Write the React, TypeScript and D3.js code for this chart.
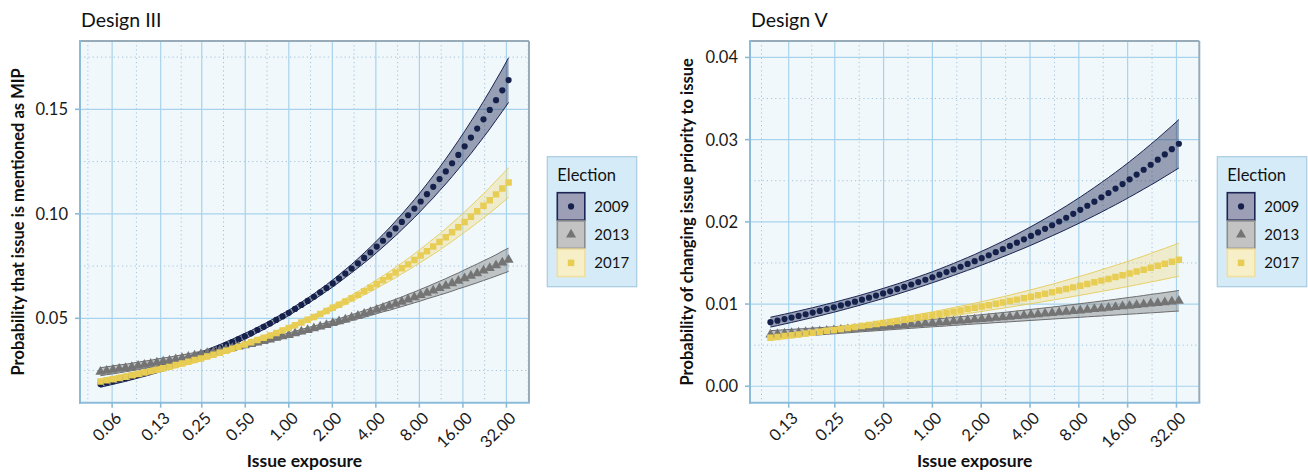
import React from "react";
import * as d3 from "d3";

// ---------- DATA ----------
// log(issue exposure) grid of the predictions
const lnExposureIII = [
  -3.0,-2.9,-2.8,-2.7,-2.6,-2.5,-2.4,-2.3,-2.2,-2.1,-2.0,-1.9,-1.8,-1.7,-1.6,-1.5,-1.4,-1.3,-1.2,-1.1,
  -1.0,-0.9,-0.8,-0.7,-0.6,-0.5,-0.4,-0.3,-0.2,-0.1,0.0,0.1,0.2,0.3,0.4,0.5,0.6,0.7,0.8,0.9,
  1.0,1.1,1.2,1.3,1.4,1.5,1.6,1.7,1.8,1.9,2.0,2.1,2.2,2.3,2.4,2.5,2.6,2.7,2.8,2.9,
  3.0,3.1,3.2,3.3,3.4,3.5];
const lnExposureV = [
  -2.3,-2.2,-2.1,-2.0,-1.9,-1.8,-1.7,-1.6,-1.5,-1.4,-1.3,-1.2,-1.1,-1.0,-0.9,-0.8,-0.7,-0.6,-0.5,-0.4,
  -0.3,-0.2,-0.1,0.0,0.1,0.2,0.3,0.4,0.5,0.6,0.7,0.8,0.9,1.0,1.1,1.2,1.3,1.4,1.5,1.6,
  1.7,1.8,1.9,2.0,2.1,2.2,2.3,2.4,2.5,2.6,2.7,2.8,2.9,3.0,3.1,3.2,3.3,3.4,3.5];

// Design III
const iii2009 = [.0185,.0192,.0199,.0206,.0213,.0221,.0229,.0237,.0245,.0254,.0263,.0273,.0282,.0292,.0303,.0314,.0325,.0336,.0348,.0360,.0373,.0386,.0400,.0414,.0428,.0444,.0459,.0475,.0492,.0509,.0526,.0545,.0564,.0583,.0603,.0624,.0645,.0667,.0690,.0714,.0738,.0763,.0789,.0815,.0843,.0871,.0900,.0930,.0961,.0993,.1025,.1059,.1094,.1129,.1166,.1203,.1242,.1282,.1323,.1365,.1408,.1452,.1497,.1544,.1591,.1640];
const iii2009Lo = [.0170,.0177,.0184,.0191,.0198,.0206,.0214,.0222,.0230,.0239,.0248,.0258,.0267,.0277,.0288,.0299,.0310,.0322,.0334,.0346,.0359,.0372,.0386,.0400,.0415,.0431,.0446,.0462,.0479,.0496,.0513,.0532,.0551,.0569,.0589,.0609,.0629,.0650,.0672,.0695,.0718,.0741,.0765,.0789,.0815,.0841,.0868,.0895,.0924,.0953,.0982,.1013,.1045,.1076,.1110,.1143,.1178,.1214,.1251,.1288,.1327,.1366,.1406,.1448,.1490,.1533];
const iii2009Hi = [.0200,.0207,.0214,.0221,.0228,.0236,.0244,.0252,.0260,.0269,.0278,.0288,.0297,.0307,.0318,.0329,.0340,.0350,.0362,.0374,.0387,.0400,.0414,.0428,.0441,.0457,.0472,.0488,.0505,.0522,.0539,.0558,.0577,.0597,.0617,.0639,.0661,.0684,.0708,.0733,.0758,.0785,.0813,.0841,.0871,.0901,.0932,.0965,.0998,.1033,.1068,.1105,.1143,.1182,.1222,.1263,.1306,.1350,.1395,.1442,.1489,.1538,.1588,.1640,.1692,.1747];
const iii2013 = [.0244,.0249,.0253,.0258,.0262,.0267,.0272,.0277,.0282,.0288,.0293,.0298,.0304,.0309,.0315,.0321,.0327,.0333,.0339,.0345,.0351,.0358,.0364,.0371,.0377,.0384,.0391,.0398,.0406,.0413,.0420,.0428,.0436,.0444,.0452,.0460,.0468,.0477,.0485,.0494,.0503,.0512,.0521,.0530,.0540,.0550,.0559,.0569,.0579,.0590,.0600,.0611,.0622,.0633,.0644,.0655,.0667,.0679,.0691,.0703,.0715,.0728,.0740,.0753,.0767,.0780];
const iii2013Lo = [.0225,.0230,.0234,.0239,.0244,.0249,.0254,.0259,.0265,.0271,.0276,.0282,.0288,.0293,.0300,.0306,.0312,.0319,.0325,.0331,.0338,.0345,.0351,.0359,.0365,.0373,.0380,.0387,.0395,.0402,.0410,.0418,.0425,.0433,.0441,.0449,.0456,.0465,.0472,.0480,.0489,.0497,.0505,.0513,.0522,.0531,.0538,.0547,.0556,.0565,.0574,.0583,.0593,.0602,.0611,.0620,.0630,.0641,.0650,.0660,.0670,.0681,.0691,.0702,.0713,.0724];
const iii2013Hi = [.0263,.0268,.0272,.0277,.0280,.0285,.0290,.0295,.0299,.0305,.0310,.0314,.0320,.0325,.0330,.0336,.0342,.0347,.0353,.0359,.0364,.0371,.0377,.0383,.0389,.0395,.0402,.0409,.0417,.0424,.0430,.0438,.0447,.0455,.0463,.0471,.0480,.0489,.0498,.0508,.0517,.0527,.0537,.0547,.0558,.0569,.0580,.0591,.0602,.0615,.0626,.0639,.0651,.0664,.0677,.0690,.0704,.0717,.0732,.0746,.0760,.0775,.0789,.0804,.0821,.0836];
const iii2017 = [.0197,.0203,.0208,.0214,.0220,.0227,.0233,.0240,.0247,.0254,.0261,.0268,.0276,.0284,.0292,.0300,.0308,.0317,.0326,.0335,.0345,.0354,.0364,.0374,.0385,.0396,.0407,.0418,.0430,.0442,.0454,.0467,.0480,.0493,.0506,.0520,.0535,.0550,.0565,.0580,.0596,.0612,.0629,.0646,.0664,.0682,.0700,.0719,.0739,.0758,.0779,.0800,.0821,.0843,.0865,.0888,.0912,.0936,.0961,.0986,.1012,.1038,.1065,.1093,.1121,.1150];
const iii2017Lo = [.0183,.0189,.0194,.0200,.0206,.0213,.0219,.0226,.0233,.0240,.0248,.0255,.0263,.0271,.0279,.0287,.0295,.0305,.0314,.0323,.0333,.0342,.0353,.0363,.0374,.0385,.0396,.0408,.0420,.0432,.0444,.0457,.0470,.0482,.0495,.0509,.0523,.0537,.0552,.0566,.0581,.0596,.0612,.0627,.0644,.0661,.0677,.0694,.0713,.0730,.0749,.0768,.0787,.0806,.0826,.0847,.0868,.0890,.0912,.0934,.0957,.0980,.1004,.1028,.1053,.1079];
const iii2017Hi = [.0211,.0217,.0222,.0228,.0234,.0241,.0247,.0254,.0261,.0268,.0274,.0281,.0289,.0297,.0305,.0313,.0321,.0329,.0338,.0347,.0357,.0366,.0375,.0385,.0396,.0407,.0418,.0428,.0440,.0452,.0464,.0477,.0490,.0504,.0517,.0531,.0547,.0563,.0578,.0594,.0611,.0628,.0646,.0665,.0684,.0703,.0723,.0744,.0765,.0786,.0809,.0832,.0855,.0880,.0904,.0929,.0956,.0982,.1010,.1038,.1067,.1096,.1126,.1158,.1189,.1221];

// Design V
const v2009 = [.00780,.00798,.00817,.00836,.00856,.00876,.00896,.00917,.00939,.00960,.00983,.01006,.01029,.01053,.01078,.01103,.01129,.01155,.01182,.01210,.01238,.01267,.01296,.01326,.01357,.01389,.01421,.01454,.01488,.01522,.01558,.01594,.01631,.01669,.01707,.01747,.01787,.01829,.01871,.01915,.01959,.02004,.02050,.02098,.02146,.02196,.02246,.02298,.02351,.02405,.02460,.02517,.02575,.02634,.02695,.02756,.02820,.02884,.02950];
const v2009Lo = [.00720,.00738,.00757,.00776,.00796,.00816,.00836,.00857,.00879,.00900,.00923,.00946,.00969,.00993,.01018,.01042,.01068,.01094,.01120,.01147,.01174,.01202,.01230,.01259,.01288,.01318,.01348,.01379,.01410,.01441,.01474,.01507,.01540,.01575,.01609,.01644,.01679,.01716,.01753,.01791,.01830,.01868,.01908,.01949,.01990,.02032,.02075,.02118,.02163,.02208,.02254,.02301,.02349,.02398,.02447,.02497,.02550,.02602,.02655];
const v2009Hi = [.00840,.00858,.00877,.00896,.00916,.00936,.00956,.00977,.00999,.01020,.01043,.01066,.01089,.01113,.01138,.01164,.01190,.01217,.01244,.01273,.01302,.01332,.01362,.01393,.01426,.01460,.01494,.01530,.01566,.01603,.01642,.01681,.01722,.01763,.01806,.01850,.01895,.01942,.01989,.02039,.02088,.02140,.02192,.02247,.02302,.02360,.02418,.02478,.02539,.02602,.02666,.02733,.02801,.02871,.02943,.03015,.03091,.03166,.03245];
const v2013 = [.00630,.00635,.00641,.00647,.00652,.00658,.00664,.00669,.00675,.00681,.00687,.00693,.00699,.00705,.00711,.00717,.00724,.00730,.00736,.00743,.00749,.00756,.00762,.00769,.00775,.00782,.00789,.00796,.00803,.00810,.00817,.00824,.00831,.00838,.00845,.00853,.00860,.00868,.00875,.00883,.00890,.00898,.00906,.00914,.00922,.00930,.00938,.00946,.00954,.00962,.00971,.00979,.00987,.00996,.01005,.01013,.01022,.01031,.01040];
const v2013Lo = [.00583,.00589,.00595,.00602,.00607,.00614,.00620,.00625,.00632,.00638,.00644,.00650,.00657,.00663,.00669,.00675,.00681,.00687,.00693,.00699,.00705,.00711,.00717,.00723,.00728,.00734,.00740,.00746,.00752,.00757,.00763,.00768,.00774,.00779,.00784,.00790,.00795,.00801,.00806,.00812,.00817,.00823,.00828,.00834,.00839,.00845,.00850,.00855,.00861,.00866,.00872,.00877,.00882,.00888,.00893,.00898,.00904,.00910,.00915];
const v2013Hi = [.00677,.00681,.00687,.00692,.00697,.00702,.00708,.00713,.00718,.00724,.00730,.00736,.00741,.00747,.00753,.00759,.00767,.00773,.00779,.00787,.00793,.00801,.00807,.00815,.00822,.00830,.00838,.00846,.00854,.00863,.00871,.00880,.00888,.00897,.00906,.00916,.00925,.00935,.00944,.00954,.00963,.00973,.00984,.00994,.01005,.01015,.01026,.01037,.01047,.01058,.01070,.01081,.01092,.01104,.01117,.01128,.01140,.01152,.01165];
const v2017 = [.00590,.00600,.00610,.00620,.00630,.00641,.00652,.00663,.00674,.00685,.00697,.00708,.00720,.00732,.00744,.00757,.00769,.00782,.00795,.00809,.00822,.00836,.00850,.00864,.00878,.00893,.00908,.00923,.00939,.00954,.00970,.00986,.01003,.01019,.01036,.01054,.01071,.01089,.01107,.01126,.01144,.01164,.01183,.01203,.01223,.01243,.01264,.01285,.01306,.01328,.01350,.01372,.01395,.01418,.01442,.01466,.01490,.01515,.01540];
const v2017Lo = [.00558,.00569,.00579,.00590,.00600,.00611,.00623,.00634,.00645,.00656,.00668,.00679,.00691,.00703,.00714,.00726,.00737,.00749,.00761,.00774,.00785,.00797,.00810,.00822,.00834,.00846,.00859,.00871,.00885,.00897,.00910,.00923,.00937,.00949,.00963,.00977,.00990,.01004,.01018,.01033,.01047,.01062,.01077,.01092,.01107,.01122,.01138,.01153,.01169,.01185,.01201,.01217,.01234,.01251,.01268,.01285,.01303,.01321,.01338];
const v2017Hi = [.00622,.00631,.00641,.00650,.00660,.00671,.00681,.00692,.00703,.00714,.00726,.00737,.00749,.00761,.00774,.00788,.00801,.00815,.00829,.00844,.00859,.00875,.00890,.00906,.00922,.00940,.00957,.00975,.00993,.01011,.01030,.01049,.01069,.01089,.01109,.01131,.01152,.01174,.01196,.01219,.01241,.01266,.01290,.01314,.01339,.01364,.01390,.01417,.01443,.01471,.01499,.01527,.01556,.01585,.01616,.01647,.01677,.01709,.01742];

const elections = ["2009", "2013", "2017"];
const xTickValues = [0.06, 0.13, 0.25, 0.5, 1, 2, 4, 8, 16, 32];
const yTicksIII = [0.05, 0.1, 0.15];
const yTicksV = [0.0, 0.01, 0.02, 0.03, 0.04];

// ---------- STYLE ----------
const FONT = "Lato, 'Open Sans', sans-serif";
const STYLE: Record<string, { pt: string; fill: string; fillOp: number; line: string; kfill: string; kstroke: string }> = {
  "2009": { pt: "#15204b", fill: "#1b2452", fillOp: 0.42, line: "#1b2452", kfill: "#9c9fb6", kstroke: "#1b2452" },
  "2013": { pt: "#747474", fill: "#7a7a7a", fillOp: 0.42, line: "#6c6c6c", kfill: "#c3c3c3", kstroke: "#8c8c8c" },
  "2017": { pt: "#e8cd55", fill: "#eed777", fillOp: 0.35, line: "#e6cf66", kfill: "#f6efc8", kstroke: "#efe0a0" },
};
const shapes: Record<string, d3.SymbolType> = {
  "2009": d3.symbolCircle,
  "2013": d3.symbolTriangle,
  "2017": d3.symbolSquare,
};
const sizes: Record<string, number> = { "2009": 30, "2013": 44, "2017": 42 };

type Series = { key: string; mean: number[]; lo: number[]; hi: number[] };

type PanelProps = {
  title: string;
  yTitle: string;
  yTitleX: number;
  x0: number; x1: number; y0: number; y1: number;
  xDom: [number, number];
  yDom: [number, number];
  yTicks: number[];
  lnX: number[];
  series: Series[];
  legendX: number;
};

function Panel(p: PanelProps) {
  const x = d3.scaleLinear().domain(p.xDom).range([p.x0, p.x1]);
  const y = d3.scaleLinear().domain(p.yDom).range([p.y1, p.y0]);
  const lnTicks = xTickValues.map(Math.log);
  const inX = (v: number) => v >= p.xDom[0] && v <= p.xDom[1];
  const inY = (v: number) => v >= p.yDom[0] && v <= p.yDom[1];
  const xMajor = lnTicks.filter(inX);
  const xMinorAll: number[] = [];
  xMinorAll.push(lnTicks[0] - (lnTicks[1] - lnTicks[0]) / 2);
  for (let i = 0; i < lnTicks.length - 1; i++) xMinorAll.push((lnTicks[i] + lnTicks[i + 1]) / 2);
  const n = lnTicks.length;
  xMinorAll.push(lnTicks[n - 1] + (lnTicks[n - 1] - lnTicks[n - 2]) / 2);
  const xMinor = xMinorAll.filter(inX);
  const yStep = p.yTicks[1] - p.yTicks[0];
  const yMinorAll = [p.yTicks[0] - yStep / 2, ...p.yTicks.map((t) => t + yStep / 2)];
  const yMinor = yMinorAll.filter(inY);
  const fmt = d3.format(".2f");

  const area = (s: Series) =>
    d3.area<number>().x((_, i) => x(p.lnX[i])).y0((_, i) => y(s.lo[i])).y1((_, i) => y(s.hi[i]))(s.mean) || "";
  const lineLo = (s: Series) => d3.line<number>().x((_, i) => x(p.lnX[i])).y((v) => y(v))(s.lo) || "";
  const lineHi = (s: Series) => d3.line<number>().x((_, i) => x(p.lnX[i])).y((v) => y(v))(s.hi) || "";

  const cx = (p.x0 + p.x1) / 2;
  const cy = (p.y0 + p.y1) / 2;
  const lx = p.legendX;
  const keyW = 27.5;
  const clipId = "clip" + p.title.replace(/\s/g, "");
  return (
    <g>
      <text x={p.x0 + 1} y={27} fontFamily={FONT} fontSize={19.5} fill="#111">{p.title}</text>
      <rect x={p.x0} y={p.y0} width={p.x1 - p.x0} height={p.y1 - p.y0} fill="#f0f8fc" />
      <clipPath id={clipId}>
        <rect x={p.x0} y={p.y0} width={p.x1 - p.x0} height={p.y1 - p.y0} />
      </clipPath>
      {xMinor.map((v, i) => (
        <line key={"xm" + i} x1={x(v)} x2={x(v)} y1={p.y0} y2={p.y1} stroke="#a3c3d8" strokeWidth={1} strokeDasharray="1.2 3" />
      ))}
      {yMinor.map((v, i) => (
        <line key={"ym" + i} x1={p.x0} x2={p.x1} y1={y(v)} y2={y(v)} stroke="#a3c3d8" strokeWidth={1} strokeDasharray="1.2 3" />
      ))}
      {xMajor.map((v, i) => (
        <line key={"xM" + i} x1={x(v)} x2={x(v)} y1={p.y0} y2={p.y1} stroke="#a8d3ec" strokeWidth={1.2} />
      ))}
      {p.yTicks.map((v, i) => (
        <line key={"yM" + i} x1={p.x0} x2={p.x1} y1={y(v)} y2={y(v)} stroke="#a8d3ec" strokeWidth={1.2} />
      ))}
      <g clipPath={`url(#${clipId})`}>
        {p.series.map((s) => (
          <g key={"rib" + s.key}>
            <path d={area(s)} fill={STYLE[s.key].fill} fillOpacity={STYLE[s.key].fillOp} stroke="none" />
            <path d={lineLo(s)} fill="none" stroke={STYLE[s.key].line} strokeWidth={1} />
            <path d={lineHi(s)} fill="none" stroke={STYLE[s.key].line} strokeWidth={1} />
          </g>
        ))}
        {p.series.map((s) => (
          <g key={"pts" + s.key}>
            {s.mean.map((v, i) => (
              <path
                key={i}
                transform={`translate(${x(p.lnX[i])},${y(v)})`}
                d={d3.symbol(shapes[s.key], sizes[s.key])() || ""}
                fill={STYLE[s.key].pt}
              />
            ))}
          </g>
        ))}
      </g>
      {/* panel border */}
      <line x1={p.x0} x2={p.x1} y1={p.y0} y2={p.y0} stroke="#97abb9" strokeWidth={2} />
      <line x1={p.x1} x2={p.x1} y1={p.y0} y2={p.y1} stroke="#97abb9" strokeWidth={2} />
      <line x1={p.x0} x2={p.x0} y1={p.y0 - 1} y2={p.y1 + 1} stroke="#8cbbd9" strokeWidth={2} />
      <line x1={p.x0 - 1} x2={p.x1 + 1} y1={p.y1} y2={p.y1} stroke="#8cbbd9" strokeWidth={2} />
      {/* y ticks */}
      {p.yTicks.map((v, i) => (
        <g key={"yt" + i}>
          <line x1={p.x0 - 5} x2={p.x0} y1={y(v)} y2={y(v)} stroke="#8cbbd9" strokeWidth={1.6} />
          <text x={p.x0 - 12} y={y(v)} dy="0.36em" textAnchor="end" fontFamily={FONT} fontSize={16.5} fill="#1a1a1a">{fmt(v)}</text>
        </g>
      ))}
      {/* x ticks */}
      {xTickValues.filter((v) => inX(Math.log(v))).map((v, i) => (
        <g key={"xt" + i}>
          <line x1={x(Math.log(v))} x2={x(Math.log(v))} y1={p.y1} y2={p.y1 + 5} stroke="#8cbbd9" strokeWidth={1.6} />
          <text
            transform={`translate(${x(Math.log(v)) + 2},${p.y1 + 8}) rotate(-45)`}
            dy="0.72em"
            textAnchor="end"
            fontFamily={FONT}
            fontSize={16.5}
            fill="#1a1a1a"
          >
            {fmt(v)}
          </text>
        </g>
      ))}
      <text x={cx} y={467} textAnchor="middle" fontFamily={FONT} fontWeight="bold" fontSize={17.5} fill="#111">Issue exposure</text>
      <text transform={`translate(${p.yTitleX},${cy}) rotate(-90)`} textAnchor="middle" dy="0.35em" fontFamily={FONT} fontWeight="bold" fontSize={16.5} fill="#111">
        {p.yTitle}
      </text>
      {/* legend */}
      <rect x={lx} y={156.7} width={89.4} height={130} fill="#d5ebf8" stroke="#a7cbe2" strokeWidth={1.2} />
      <text x={lx + 10} y={181} fontFamily={FONT} fontSize={16.5} fill="#111">Election</text>
      {elections.map((k, i) => {
        const ky = 192.7 + i * 28.2;
        return (
          <g key={"lg" + k}>
            <rect x={lx + 10} y={ky} width={keyW} height={keyW} fill={STYLE[k].kfill} stroke={STYLE[k].kstroke} strokeWidth={1.6} />
            <path transform={`translate(${lx + 10 + keyW / 2},${ky + keyW / 2})`} d={d3.symbol(shapes[k], sizes[k])() || ""} fill={STYLE[k].pt} />
            <text x={lx + 47} y={ky + keyW / 2} dy="0.36em" fontFamily={FONT} fontSize={15} fill="#111">{k}</text>
          </g>
        );
      })}
    </g>
  );
}

export default function App() {
  const seriesIII: Series[] = [
    { key: "2009", mean: iii2009, lo: iii2009Lo, hi: iii2009Hi },
    { key: "2013", mean: iii2013, lo: iii2013Lo, hi: iii2013Hi },
    { key: "2017", mean: iii2017, lo: iii2017Lo, hi: iii2017Hi },
  ];
  const seriesV: Series[] = [
    { key: "2009", mean: v2009, lo: v2009Lo, hi: v2009Hi },
    { key: "2013", mean: v2013, lo: v2013Lo, hi: v2013Hi },
    { key: "2017", mean: v2017, lo: v2017Lo, hi: v2017Hi },
  ];
  return (
    <svg width={1308} height={475} style={{ position: "absolute", left: 0, top: 0, background: "#fff" }}>
      <rect width={1308} height={475} fill="#fff" />
      <Panel
        title="Design III"
        yTitle="Probability that issue is mentioned as MIP"
        yTitleX={18}
        x0={80} x1={529} y0={41} y1={402.7}
        xDom={[-3.325, 3.825]}
        yDom={[0.0096, 0.1827]}
        yTicks={yTicksIII}
        lnX={lnExposureIII}
        series={seriesIII}
        legendX={547.3}
      />
      <Panel
        title="Design V"
        yTitle="Probability of changing issue priority to issue"
        yTitleX={687}
        x0={750} x1={1199.3} y0={41} y1={402.7}
        xDom={[-2.59, 3.79]}
        yDom={[-0.002, 0.042]}
        yTicks={yTicksV}
        lnX={lnExposureV}
        series={seriesV}
        legendX={1217.3}
      />
    </svg>
  );
}
